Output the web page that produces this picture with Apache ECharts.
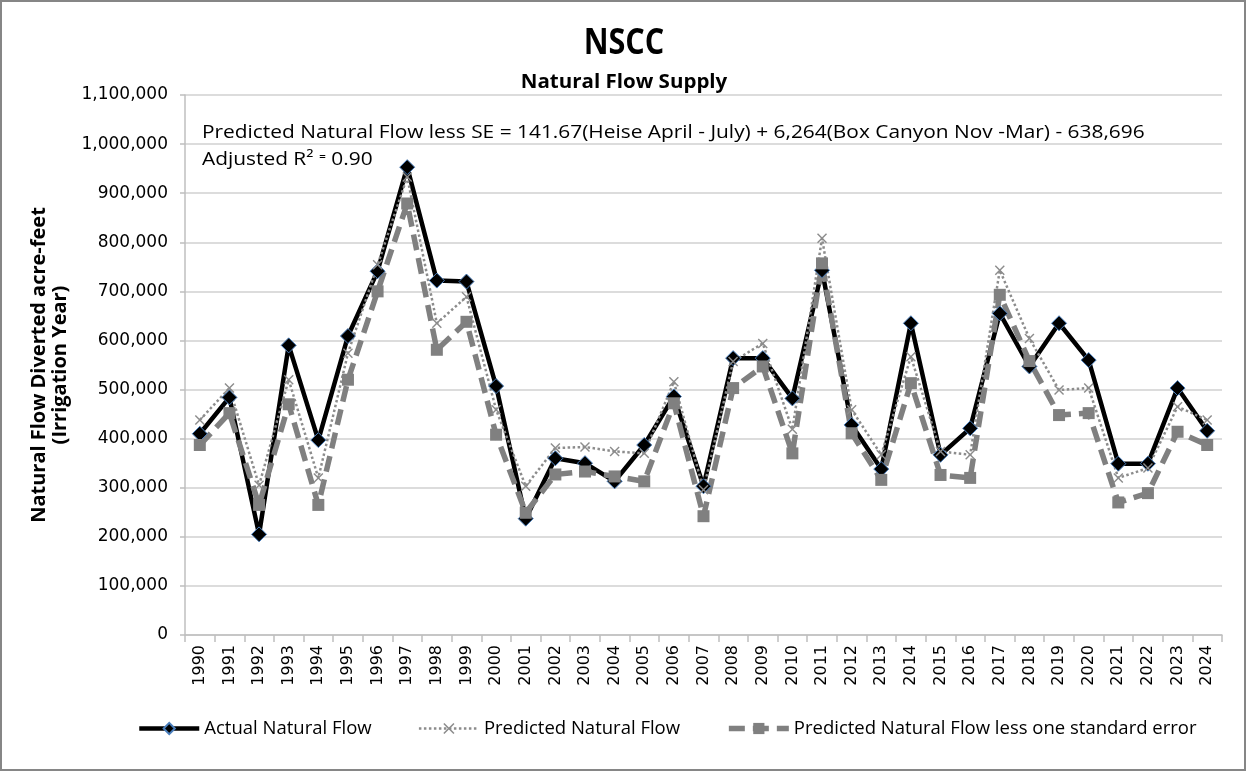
<!DOCTYPE html>
<html><head><meta charset="utf-8">
<script src="https://cdn.jsdelivr.net/npm/echarts@6/dist/echarts.min.js"></script>
<style>html,body{margin:0;padding:0;background:#fff}#c{width:1247px;height:772px}</style>
</head><body><div id="c"></div>
<script>
const years = ['1990','1991','1992','1993','1994','1995','1996','1997','1998','1999',
  '2000','2001','2002','2003','2004','2005','2006','2007','2008','2009',
  '2010','2011','2012','2013','2014','2015','2016','2017','2018','2019',
  '2020','2021','2022','2023','2024'];
const actualFlow = [410000,484000,205000,590000,397000,609000,741000,953000,722000,720000,
  507000,237000,360000,350000,313000,387000,486000,303000,564000,564000,
  482000,743000,428000,338000,635000,367000,421000,655000,547000,635000,
  560000,349000,349000,503000,416000];
const predictedFlow = [438000,503000,305000,520000,320000,574000,754000,933000,635000,689000,
  459000,303000,381000,383000,374000,370000,516000,296000,557000,594000,
  419000,808000,459000,367000,567000,374000,367000,743000,604000,499000,
  503000,320000,340000,465000,438000];
const predictedLessSE = [387000,452000,265000,470000,265000,520000,700000,879000,581000,638000,
  408000,249000,327000,333000,323000,313000,472000,242000,503000,547000,
  370000,757000,411000,316000,513000,326000,320000,693000,558000,448000,
  452000,270000,289000,414000,387000];
const seriesNames = ['Actual Natural Flow','Predicted Natural Flow','Predicted Natural Flow less one standard error'];
const titleText = 'NSCC';
const subtitleText = 'Natural Flow Supply';
const yAxisName = 'Natural Flow Diverted acre-feet\n(Irrigation Year)';
const equationText = 'Predicted Natural Flow less SE = 141.67(Heise April - July) + 6,264(Box Canyon Nov -Mar) - 638,696';
const r2Text = 'Adjusted R\u00b2 \u207c 0.90';

const bodyFont = "'Open Sans', 'DejaVu Sans', sans-serif";
const xMark = 'path://M0,1 L1,0 L5,4 L9,0 L10,1 L6,5 L10,9 L9,10 L5,6 L1,10 L0,9 L4,5 Z';

const chart = echarts.init(document.getElementById('c'), null, {renderer: 'canvas'});
chart.setOption({
  animation: false,
  backgroundColor: '#fff',
  graphic: [
    {type: 'rect', shape: {x: 1, y: 1, width: 1244, height: 769}, style: {fill: 'none', stroke: '#868686', lineWidth: 2}, silent: true},
    {type: 'text', x: 624, y: 44, scaleX: 0.85, style: {text: titleText, font: "bold 36px 'Open Sans', sans-serif", fill: '#000', align: 'center', verticalAlign: 'middle'}},
    {type: 'text', x: 624, y: 83, scaleX: 1.08, style: {text: subtitleText, font: "bold 19px 'Open Sans', sans-serif", fill: '#000', align: 'center', verticalAlign: 'middle'}},
    {type: 'text', x: 202, y: 133, scaleX: 1.16, style: {text: equationText, font: "18px 'Open Sans', sans-serif", fill: '#000', align: 'left', verticalAlign: 'middle'}},
    {type: 'text', x: 202, y: 160, scaleX: 1.16, style: {text: r2Text, font: "18px 'Open Sans', sans-serif", fill: '#000', align: 'left', verticalAlign: 'middle'}}
  ],
  legend: {
    bottom: 29,
    left: 132,
    itemWidth: 60,
    itemHeight: 14,
    itemGap: 46,
    lineStyle: {width: 'inherit'},
    textStyle: {fontFamily: bodyFont, fontSize: 18.5, color: '#000'},
    data: seriesNames
  },
  grid: {left: 185, right: 25, top: 95, bottom: 137, containLabel: false},
  xAxis: {
    type: 'category',
    data: years,
    boundaryGap: true,
    axisLine: {lineStyle: {color: '#bfbfbf', width: 1.5}},
    axisTick: {show: true, length: 7, alignWithLabel: false, lineStyle: {color: '#bfbfbf', width: 1.5}},
    axisLabel: {rotate: 90, margin: 10, fontFamily: "'DejaVu Sans', sans-serif", fontSize: 16, color: '#000', interval: 0}
  },
  yAxis: {
    type: 'value',
    min: 0, max: 1100000, interval: 100000,
    name: yAxisName,
    nameLocation: 'middle',
    nameGap: 108,
    nameTextStyle: {fontFamily: bodyFont, fontSize: 20, fontWeight: 'bold', color: '#000', lineHeight: 21},
    axisLine: {show: true, lineStyle: {color: '#bfbfbf', width: 1.5}},
    axisTick: {show: true, length: 5, inside: false, lineStyle: {color: '#bfbfbf', width: 1.5}},
    axisLabel: {margin: 17, fontFamily: "'DejaVu Sans', sans-serif", fontSize: 17, color: '#000',
      formatter: v => v.toLocaleString('en-US')},
    splitLine: {lineStyle: {color: '#d0d0d0', width: 1.5}}
  },
  series: [
    {
      name: seriesNames[0], type: 'line', data: actualFlow,
      symbol: 'diamond', symbolSize: 15, showAllSymbol: true,
      lineStyle: {color: '#000', width: 4.5},
      itemStyle: {color: '#000', borderColor: '#4a7ebb', borderWidth: 1}
    },
    {
      name: seriesNames[1], type: 'line', data: predictedFlow,
      symbol: xMark, symbolSize: 10, showAllSymbol: true,
      lineStyle: {color: '#8c8c8c', width: 2.5, type: 'dotted'},
      itemStyle: {color: '#8c8c8c'}
    },
    {
      name: seriesNames[2], type: 'line', data: predictedLessSE,
      symbol: 'rect', symbolSize: 12, showAllSymbol: true,
      lineStyle: {color: '#808080', width: 5.5, type: [16, 8]},
      itemStyle: {color: '#808080'}
    }
  ]
});
</script>
</body></html>
